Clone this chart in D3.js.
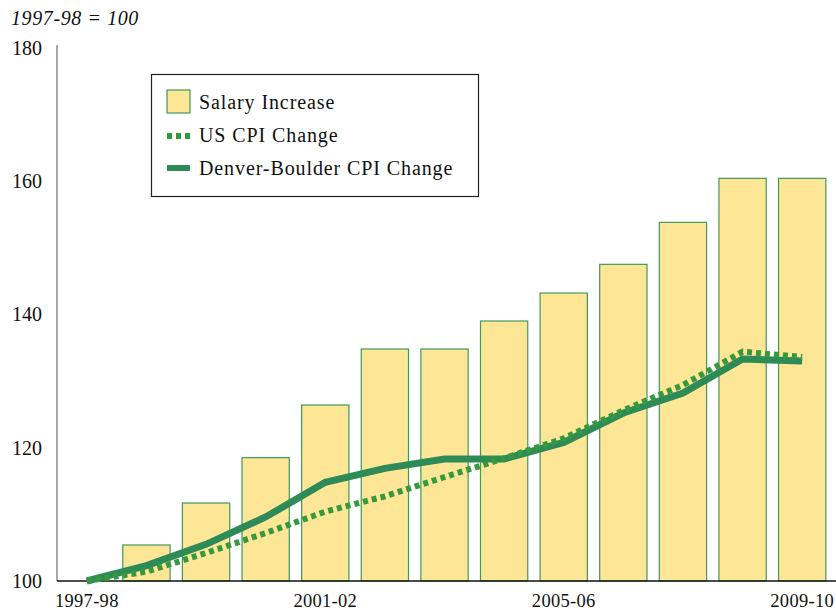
<!DOCTYPE html>
<html>
<head>
<meta charset="utf-8">
<script src="https://cdn.jsdelivr.net/npm/d3@7/dist/d3.min.js"></script>
<style>
  html, body { margin: 0; padding: 0; background: #fff; }
  svg { display: block; }
  text { font-family: "Liberation Serif", "DejaVu Serif", serif; fill: #111; }
</style>
</head>
<body>
<svg id="chart" width="836" height="613"></svg>
<script>
// Fiscal years (index 1997-98 = 100)
const years = ["1997-98","1998-99","1999-00","2000-01","2001-02","2002-03","2003-04",
               "2004-05","2005-06","2006-07","2007-08","2008-09","2009-10"];
const salaryIncrease = [100, 105.4, 111.7, 118.5, 126.4, 134.8, 134.8, 139.0, 143.2, 147.5, 153.8, 160.4, 160.4];
const usCPI = [100, 101.4, 104.2, 107.2, 110.4, 112.7, 115.6, 118.4, 121.4, 125.6, 129.4, 134.4, 133.6];
const denverCPI = [100, 102.3, 105.5, 109.6, 114.8, 116.9, 118.3, 118.3, 120.8, 125.2, 128.2, 133.3, 133.0];
const yTicks = [100, 120, 140, 160, 180];
const xTickLabels = ["1997-98", "2001-02", "2005-06", "2009-10"];
const legendItems = ["Salary Increase", "US CPI Change", "Denver-Boulder CPI Change"];

const svg = d3.select("#chart");
const plotLeft = 57, plotRight = 832, plotTop = 47.7, plotBottom = 581;

const x = d3.scaleBand().domain(years).range([plotLeft, plotRight]).paddingInner(0.19).paddingOuter(0.095);
const y = d3.scaleLinear().domain([100, 180]).range([plotBottom, plotTop]);
const cx = d => x(d) + x.bandwidth() / 2;

const barFill = "#fde695", barStroke = "#3f9a5c";
const denverColor = "#2e8b57", usColor = "#36993f";

// bars (base year equals the baseline and draws nothing)
svg.append("g").selectAll("rect")
  .data(years.map((yr, i) => ({ yr, v: salaryIncrease[i] })).filter(d => d.v > 100))
  .join("rect")
  .attr("x", d => x(d.yr) + 0.5)
  .attr("y", d => y(d.v))
  .attr("width", x.bandwidth() - 1)
  .attr("height", d => plotBottom - y(d.v))
  .attr("fill", barFill)
  .attr("stroke", barStroke)
  .attr("stroke-width", 1.2);

// y axis (no tick marks)
const yAxis = svg.append("g").attr("transform", `translate(${plotLeft},0)`)
  .call(d3.axisLeft(y).tickValues(yTicks).tickSize(0).tickPadding(15));
yAxis.select(".domain").attr("stroke", "#777").attr("stroke-width", 1.3).attr("d", `M0,${plotTop - 2.5}V${plotBottom}`);
yAxis.selectAll("text").attr("font-size", 20).attr("font-family", "Liberation Serif").attr("fill", "#111");

// x axis
const xAxis = svg.append("g").attr("transform", `translate(0,${plotBottom})`)
  .call(d3.axisBottom(x).tickValues(xTickLabels).tickSize(0).tickPadding(13));
xAxis.select(".domain").attr("stroke", "#111").attr("stroke-width", 1.3).attr("d", `M${plotLeft},0H836`);
xAxis.selectAll("text").attr("font-size", 18.5).attr("font-family", "Liberation Serif")
  .attr("letter-spacing", 0.3).attr("fill", "#111");

// CPI lines
const line = d3.line().x((d, i) => cx(years[i])).y(d => y(d));
svg.append("path").datum(denverCPI).attr("d", line)
  .attr("fill", "none").attr("stroke", denverColor).attr("stroke-width", 7);
svg.append("path").datum(usCPI).attr("d", line)
  .attr("fill", "none").attr("stroke", usColor).attr("stroke-width", 6)
  .attr("stroke-dasharray", "5,4");

// title
svg.append("text").attr("x", 11).attr("y", 25)
  .attr("font-size", 20).attr("font-style", "italic").attr("letter-spacing", 0.6)
  .text("1997-98 = 100");

// legend
const lg = svg.append("g");
lg.append("rect").attr("x", 151.5).attr("y", 74.5).attr("width", 327).attr("height", 122)
  .attr("fill", "#fff").attr("stroke", "#222").attr("stroke-width", 1.2);
lg.append("rect").attr("x", 167).attr("y", 90).attr("width", 23).attr("height", 23)
  .attr("fill", barFill).attr("stroke", barStroke).attr("stroke-width", 1.2);
lg.append("line").attr("x1", 167).attr("x2", 190).attr("y1", 136).attr("y2", 136)
  .attr("stroke", usColor).attr("stroke-width", 6).attr("stroke-dasharray", "5,4");
lg.append("line").attr("x1", 167).attr("x2", 190).attr("y1", 168).attr("y2", 168)
  .attr("stroke", denverColor).attr("stroke-width", 6);
lg.selectAll("text.item").data(legendItems).join("text")
  .attr("class", "item")
  .attr("x", 199).attr("y", (d, i) => 109 + i * 33)
  .attr("font-size", 20).attr("letter-spacing", 0.9).text(d => d);
</script>
</body>
</html>
